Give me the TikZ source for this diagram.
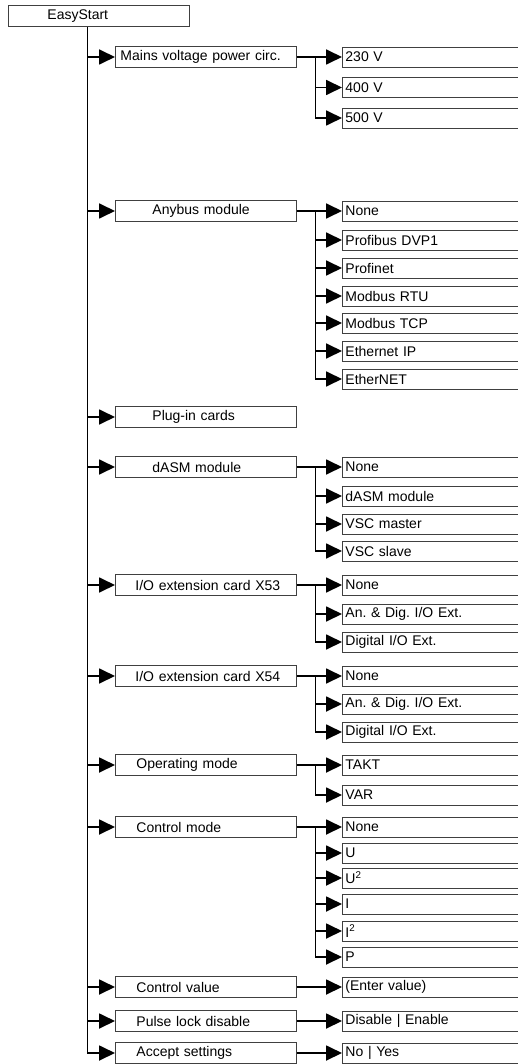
\documentclass[tikz,border=0pt]{standalone}
\usepackage{fontspec}
\setmainfont{Liberation Sans}
\usetikzlibrary{arrows.meta}
\definecolor{boxc}{gray}{0.25}
\frenchspacing
\begin{document}
\begin{tikzpicture}[x=1pt,y=-1pt,
  box/.style={draw=boxc, line width=0.9pt, fill=white, font=\fontsize{14}{16}\selectfont\frenchspacing, inner sep=0pt, anchor=west},
  top/.style={box, minimum height=21pt, text width=181pt, align=left, execute at begin node={\noindent\hspace*{#1}}},
  sub/.style={box, minimum height=20pt, text width=190pt, align=left, execute at begin node={\noindent\hspace*{3pt}}},
  conn/.style={line width=1.8pt, -{Triangle[length=16pt,width=15pt]}},
  trunk/.style={line width=1pt}]
\useasboundingbox (0,0) rectangle (518,1064);
\clip (0,0) rectangle (518,1064);
% level 0 / 1
\node[top=39pt] (root) at (8,16) {EasyStart};
\node[top=5pt]  (mains)  at (115,57)   {Mains voltage power circ.};
\node[top=37pt] (anybus) at (115,211)  {Anybus module};
\node[top=37pt] (plugin) at (115,417)  {Plug-in cards};
\node[top=37pt] (dasm)   at (115,467)  {dASM module};
\node[top=20pt] (xa)     at (115,585)  {I/O extension card X53};
\node[top=20pt] (xb)     at (115,676)  {I/O extension card X54};
\node[top=21pt] (opm)    at (115,765)  {Operating mode};
\node[top=21pt] (cm)     at (115,827)  {Control mode};
\node[top=21pt] (cv)     at (115,987)  {Control value};
\node[top=21pt] (pl)     at (115,1021) {Pulse lock disable};
\node[top=21pt] (acc)    at (115,1053) {Accept settings};
% level 2
\node[sub] (m1) at (342,57)  {230 V};
\node[sub] (m2) at (342,87.5){400 V};
\node[sub] (m3) at (342,118) {500 V};
\node[sub] (a1) at (342,211) {None};
\node[sub] (a2) at (342,240) {Profibus DVP1};
\node[sub] (a3) at (342,268) {Profinet};
\node[sub] (a4) at (342,296) {Modbus RTU};
\node[sub] (a5) at (342,323) {Modbus TCP};
\node[sub] (a6) at (342,351) {Ethernet IP};
\node[sub] (a7) at (342,379) {EtherNET};
\node[sub] (d1) at (342,467) {None};
\node[sub] (d2) at (342,496) {dASM module};
\node[sub] (d3) at (342,524) {VSC master};
\node[sub] (d4) at (342,551) {VSC slave};
\node[sub] (x1) at (342,585) {None};
\node[sub] (x2) at (342,614) {An. \& Dig. I/O Ext.};
\node[sub] (x3) at (342,642) {Digital I/O Ext.};
\node[sub] (y1) at (342,676) {None};
\node[sub] (y2) at (342,704) {An. \& Dig. I/O Ext.};
\node[sub] (y3) at (342,732) {Digital I/O Ext.};
\node[sub] (o1) at (342,765) {TAKT};
\node[sub] (o2) at (342,795) {VAR};
\node[sub] (c1) at (342,827) {None};
\node[sub] (c2) at (342,853) {U};
\node[sub] (c3) at (342,878) {U\textsuperscript{2}};
\node[sub] (c4) at (342,904) {I};
\node[sub] (c5) at (342,931) {I\textsuperscript{2}};
\node[sub] (c6) at (342,957) {P};
\node[sub] (v1) at (342,987) {(Enter value)};
\node[sub] (p1) at (342,1021){Disable | Enable};
\node[sub] (q1) at (342,1053){No | Yes};
% trunk
\coordinate (t) at (87,0);
\coordinate (j) at (315,0);
\draw[trunk] (t |- root.south) -- (t |- acc.west);
\foreach \n in {mains,anybus,plugin,dasm,xa,xb,opm,cm,cv,pl,acc}
  \draw[conn] (t |- \n.west) -- (\n.west);
% level 2 connectors
\foreach \p/\f/\l/\rest in {mains/m1/m3/{m2,m3}, anybus/a1/a7/{a2,a3,a4,a5,a6,a7},
    dasm/d1/d4/{d2,d3,d4}, xa/x1/x3/{x2,x3}, xb/y1/y3/{y2,y3}, opm/o1/o2/{o2},
    cm/c1/c6/{c2,c3,c4,c5,c6}}{
  \draw[conn] (\p.east) -- (\f.west);
  \draw[trunk] (j |- \f.west) -- (j |- \l.west);
  \foreach \c in \rest \draw[conn] (j |- \c.west) -- (\c.west);
}
\draw[conn] (cv.east) -- (v1.west);
\draw[conn] (pl.east) -- (p1.west);
\draw[conn] (acc.east) -- (q1.west);
\end{tikzpicture}
\end{document}
